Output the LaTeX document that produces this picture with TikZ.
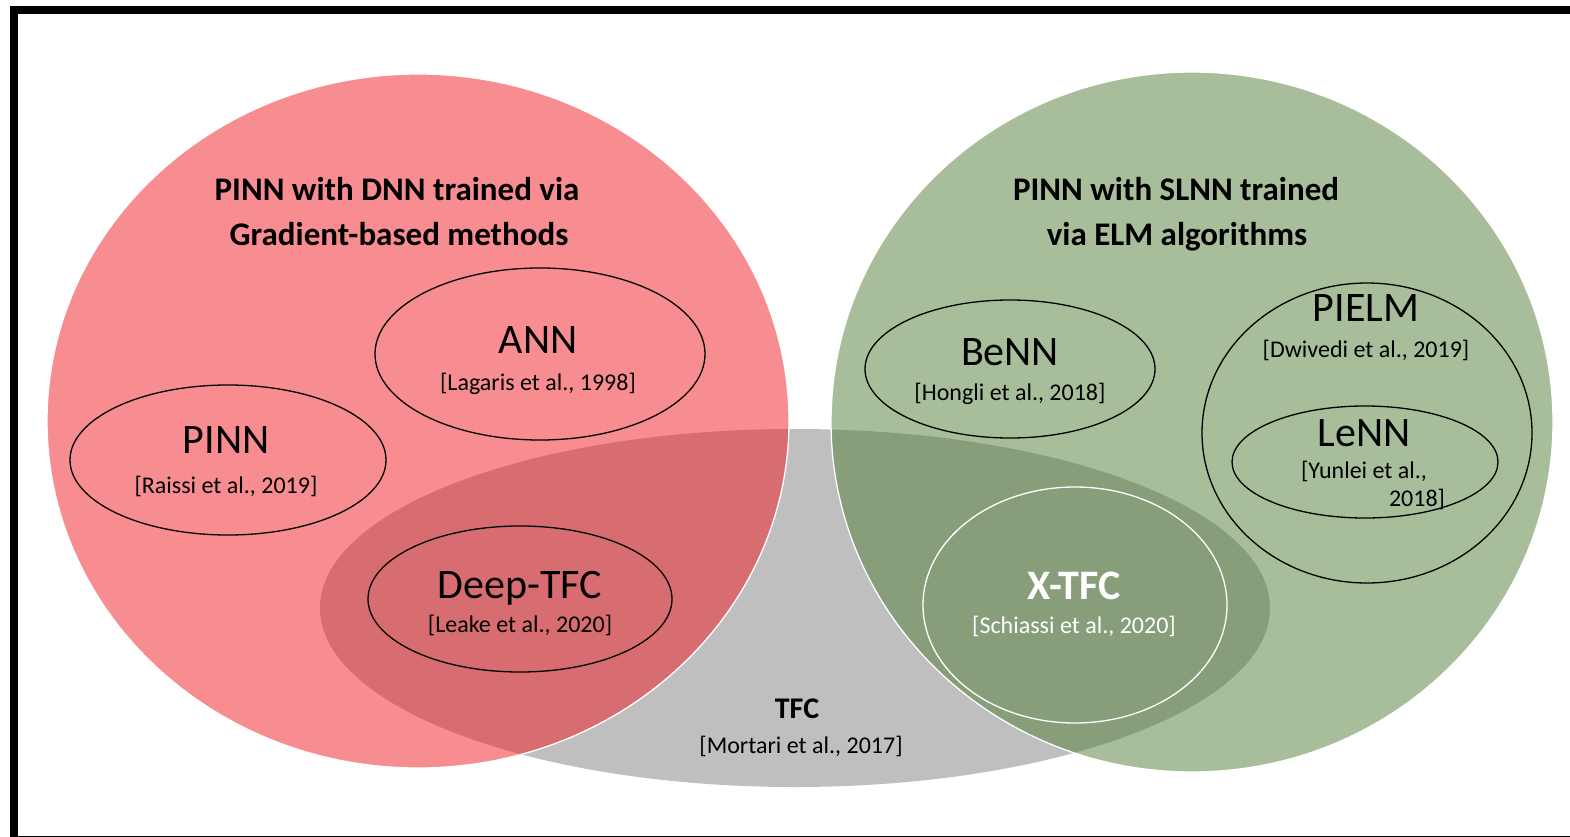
\documentclass[tikz,border=0pt]{standalone}
\usepackage{fontspec}
\setmainfont{Carlito}
\definecolor{pinkred}{RGB}{241,28,36}
\definecolor{elmgreen}{RGB}{83,127,57}
\definecolor{tfcgray}{RGB}{191,191,191}
\begin{document}
\begin{tikzpicture}[x=1pt,y=-1pt,
  cite/.style={font=\fontsize{24}{28}\selectfont, anchor=base, inner sep=0pt},
  big/.style={font=\fontsize{42}{48}\selectfont, anchor=base, inner sep=0pt},
  ttl/.style={font=\bfseries\fontsize{33}{38}\selectfont, anchor=base, inner sep=0pt},
  inell/.style={draw=black, line width=1.3pt},
  bigset/.style={fill opacity=0.5, draw=white, draw opacity=1, line width=1.3pt},
]
\useasboundingbox (0,0) rectangle (1570,837);
\clip (0,0) rectangle (1570,837);
\fill[white] (0,0) rectangle (1570,837);
% sets
\fill[tfcgray] (795,608) ellipse [x radius=475pt, y radius=179pt];
\path[bigset, fill=pinkred] (418,421) ellipse [x radius=371pt, y radius=347pt];
\path[bigset, fill=elmgreen] (1192,422) ellipse [x radius=361pt, y radius=350pt];
% inner ellipses
\draw[inell] (540,354) ellipse [x radius=165pt, y radius=86pt];
\draw[inell] (228,460) ellipse [x radius=158pt, y radius=75pt];
\draw[inell] (520,599) ellipse [x radius=152pt, y radius=73pt];
\draw[inell] (1010,369) ellipse [x radius=145pt, y radius=69pt];
\draw[inell] (1367,433) ellipse [x radius=165pt, y radius=150pt];
\draw[inell] (1365,462) ellipse [x radius=133pt, y radius=56pt];
\draw[draw=white, line width=1.3pt] (1075,605) ellipse [x radius=152pt, y radius=118pt];
% titles
\node[ttl] (t1a) at (397,200.5) {PINN with DNN trained via};
\node[ttl] (t1b) at (399,245.5) {Gradient-based methods};
\node[ttl] (t2a) at (1176,200.5) {PINN with SLNN trained};
\node[ttl] (t2b) at (1177,245.5) {via ELM algorithms};
% labels
\node[big] (ann) at (538,353.5) {ANN};
\node[cite] (annc) at (538,390) {[Lagaris et al., 1998]};
\node[big] (pinn) at (226,453.5) {PINN};
\node[cite] (pinnc) at (226,493) {[Raissi et al., 2019]};
\node[big] (dtfc) at (520,598.5) {Deep-TFC};
\node[cite] (dtfcc) at (520,632) {[Leake et al., 2020]};
\node[big] (benn) at (1010,365.5) {BeNN};
\node[cite] (bennc) at (1010,400) {[Hongli et al., 2018]};
\node[big] (pielm) at (1366,321.5) {PIELM};
\node[cite] (pielmc) at (1366,357) {[Dwivedi et al., 2019]};
\node[big] (lenn) at (1364,446.5) {LeNN};
\node[cite] (lennc) at (1364,478) {[Yunlei et al.,};
\node[cite] (lennd) at (1417,506) {2018]};
\node[big, text=white, font=\bfseries\fontsize{42}{48}\selectfont] (xtfc) at (1074,599.5) {X-TFC};
\node[cite, text=white] (xtfcc) at (1074,633) {[Schiassi et al., 2020]};
\node[ttl, font=\bfseries\fontsize{30}{34}\selectfont] (tfc) at (797,718) {TFC};
\node[cite] (tfcc) at (801,753) {[Mortari et al., 2017]};
% frame
\draw[line width=8pt] (14,10.5) rectangle (1600,839.5);
\end{tikzpicture}
\end{document}
